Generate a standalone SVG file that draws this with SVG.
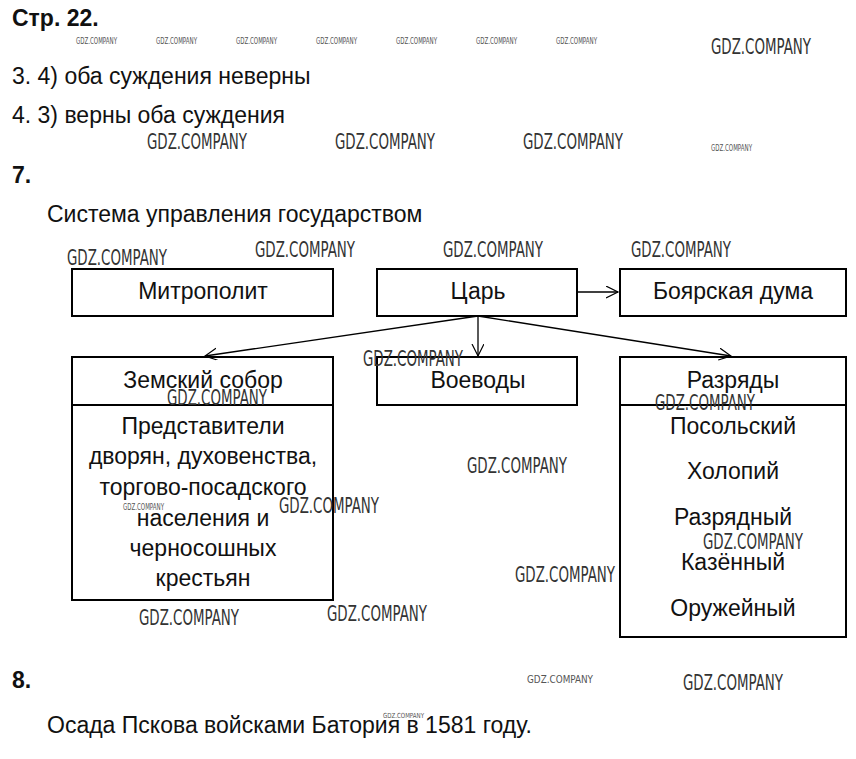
<svg xmlns="http://www.w3.org/2000/svg" width="856" height="759" viewBox="0 0 856 759">
<defs>
<marker id="ah" markerWidth="14" markerHeight="14" refX="12" refY="6" orient="auto" markerUnits="userSpaceOnUse">
<path d="M0,0 L12,6 L0,12" fill="none" stroke="#000" stroke-width="1.2"/>
</marker>
</defs>
<style>
.t{font-family:"Liberation Sans",Arial,sans-serif;font-size:23px;fill:#111}
.b{font-weight:bold}
.c{text-anchor:middle}
.box{fill:none;stroke:#000;stroke-width:2}
.ln{fill:none;stroke:#000;stroke-width:1.3}
.wm{font-family:"DejaVu Sans Condensed","DejaVu Sans",sans-serif;font-weight:200;font-size:21px;fill:#333}
.ws{font-family:"DejaVu Sans Condensed","DejaVu Sans",sans-serif;font-size:8px;fill:#555}
</style>
<rect width="856" height="759" fill="#fff"/>
<text class="t b" x="12" y="26">Стр. 22.</text>
<text class="t" x="12" y="84">3. 4) оба суждения неверны</text>
<text class="t" x="12" y="123">4. 3) верны оба суждения</text>
<text class="t b" x="12" y="183">7.</text>
<text class="t" x="47" y="222">Система управления государством</text>
<text class="t b" x="12" y="688">8.</text>
<text class="t" x="47" y="733">Осада Пскова войсками Батория в 1581 году.</text>

<g id="connectors">
<line class="ln" x1="578" y1="292" x2="618" y2="292" marker-end="url(#ah)"/>
<line class="ln" x1="478" y1="316" x2="205" y2="356" marker-end="url(#ah)"/>
<line class="ln" x1="478" y1="316" x2="478" y2="356" marker-end="url(#ah)"/>
<line class="ln" x1="478" y1="316" x2="731" y2="356" marker-end="url(#ah)"/>
</g>

<g id="mitropolit"><rect class="box" x="72" y="269" width="261" height="47"/><text class="t c" x="203" y="299">Митрополит</text></g>
<g id="tsar"><rect class="box" x="377" y="269" width="200" height="47"/><text class="t c" x="478" y="299">Царь</text></g>
<g id="boyar"><rect class="box" x="620" y="269" width="226" height="47"/><text class="t c" x="733" y="299">Боярская дума</text></g>
<g id="zemsky"><rect class="box" x="72" y="357" width="261" height="243"/><line class="box" x1="72" y1="405" x2="333" y2="405"/>
<text class="t c" x="203" y="388">Земский собор</text>
<text class="t c" x="203" y="434">Представители</text>
<text class="t c" x="203" y="464">дворян, духовенства,</text>
<text class="t c" x="203" y="495">торгово-посадского</text>
<text class="t c" x="203" y="526">населения и</text>
<text class="t c" x="203" y="556">черносошных</text>
<text class="t c" x="203" y="586">крестьян</text></g>
<g id="voevody"><rect class="box" x="377" y="357" width="200" height="48"/><text class="t c" x="478" y="388">Воеводы</text></g>
<g id="razryady"><rect class="box" x="620" y="357" width="226" height="280"/><line class="box" x1="620" y1="405" x2="846" y2="405"/>
<text class="t c" x="733" y="388">Разряды</text>
<text class="t c" x="733" y="434">Посольский</text>
<text class="t c" x="733" y="479">Холопий</text>
<text class="t c" x="733" y="525">Разрядный</text>
<text class="t c" x="733" y="570">Казённый</text>
<text class="t c" x="733" y="616">Оружейный</text></g>

<g id="watermarks">
<text class="ws" x="76" y="44" textLength="41" lengthAdjust="spacingAndGlyphs">GDZ.COMPANY</text>
<text class="ws" x="156" y="44" textLength="41" lengthAdjust="spacingAndGlyphs">GDZ.COMPANY</text>
<text class="ws" x="236" y="44" textLength="41" lengthAdjust="spacingAndGlyphs">GDZ.COMPANY</text>
<text class="ws" x="316" y="44" textLength="41" lengthAdjust="spacingAndGlyphs">GDZ.COMPANY</text>
<text class="ws" x="396" y="44" textLength="41" lengthAdjust="spacingAndGlyphs">GDZ.COMPANY</text>
<text class="ws" x="476" y="44" textLength="41" lengthAdjust="spacingAndGlyphs">GDZ.COMPANY</text>
<text class="ws" x="556" y="44" textLength="41" lengthAdjust="spacingAndGlyphs">GDZ.COMPANY</text>
<text class="ws" x="711" y="151" textLength="41" lengthAdjust="spacingAndGlyphs">GDZ.COMPANY</text>
<text class="ws" x="123" y="510" textLength="41" lengthAdjust="spacingAndGlyphs">GDZ.COMPANY</text>
<text class="ws" x="527" y="683" textLength="66" lengthAdjust="spacingAndGlyphs" style="font-size:11px">GDZ.COMPANY</text>
<text class="ws" x="383" y="718" textLength="41" lengthAdjust="spacingAndGlyphs" style="font-size:7px">GDZ.COMPANY</text>
<text class="wm" x="711" y="54" textLength="100" lengthAdjust="spacingAndGlyphs">GDZ.COMPANY</text>
<text class="wm" x="147" y="149" textLength="100" lengthAdjust="spacingAndGlyphs">GDZ.COMPANY</text>
<text class="wm" x="335" y="149" textLength="100" lengthAdjust="spacingAndGlyphs">GDZ.COMPANY</text>
<text class="wm" x="523" y="149" textLength="100" lengthAdjust="spacingAndGlyphs">GDZ.COMPANY</text>
<text class="wm" x="67" y="265" textLength="100" lengthAdjust="spacingAndGlyphs">GDZ.COMPANY</text>
<text class="wm" x="255" y="257" textLength="100" lengthAdjust="spacingAndGlyphs">GDZ.COMPANY</text>
<text class="wm" x="443" y="257" textLength="100" lengthAdjust="spacingAndGlyphs">GDZ.COMPANY</text>
<text class="wm" x="631" y="257" textLength="100" lengthAdjust="spacingAndGlyphs">GDZ.COMPANY</text>
<text class="wm" x="363" y="366" textLength="100" lengthAdjust="spacingAndGlyphs">GDZ.COMPANY</text>
<text class="wm" x="167" y="405" textLength="100" lengthAdjust="spacingAndGlyphs">GDZ.COMPANY</text>
<text class="wm" x="655" y="410" textLength="100" lengthAdjust="spacingAndGlyphs">GDZ.COMPANY</text>
<text class="wm" x="467" y="473" textLength="100" lengthAdjust="spacingAndGlyphs">GDZ.COMPANY</text>
<text class="wm" x="279" y="513" textLength="100" lengthAdjust="spacingAndGlyphs">GDZ.COMPANY</text>
<text class="wm" x="703" y="549" textLength="100" lengthAdjust="spacingAndGlyphs">GDZ.COMPANY</text>
<text class="wm" x="515" y="582" textLength="100" lengthAdjust="spacingAndGlyphs">GDZ.COMPANY</text>
<text class="wm" x="139" y="625" textLength="100" lengthAdjust="spacingAndGlyphs">GDZ.COMPANY</text>
<text class="wm" x="327" y="621" textLength="100" lengthAdjust="spacingAndGlyphs">GDZ.COMPANY</text>
<text class="wm" x="683" y="690" textLength="100" lengthAdjust="spacingAndGlyphs">GDZ.COMPANY</text>
</g>
</svg>
